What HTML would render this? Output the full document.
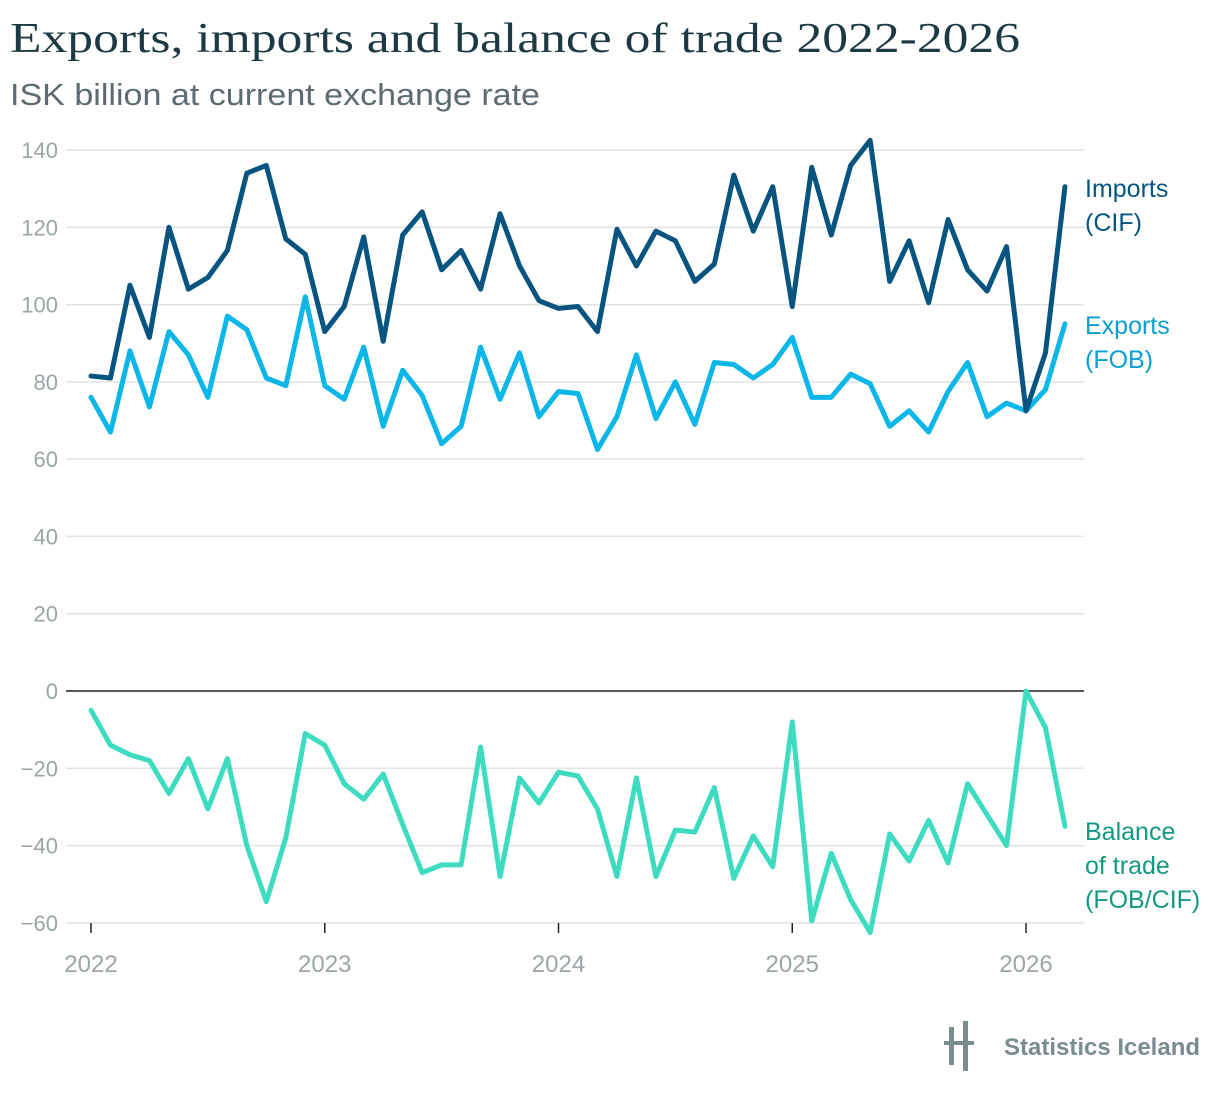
<!DOCTYPE html>
<html><head><meta charset="utf-8"><style>
body{margin:0;background:#fff;width:1220px;height:1096px;overflow:hidden;font-family:"Liberation Sans",sans-serif}
svg text{font-family:"Liberation Sans",sans-serif}
</style></head><body>
<svg id="chart" width="1220" height="1096" viewBox="0 0 1220 1096" xmlns="http://www.w3.org/2000/svg">
<text x="10" y="52" font-size="42" fill="#1d3a44" textLength="1010" lengthAdjust="spacingAndGlyphs" style="font-family:'Liberation Serif',serif">Exports, imports and balance of trade 2022-2026</text>
<text x="10" y="105" font-size="31" fill="#5d6b70" textLength="530" lengthAdjust="spacingAndGlyphs">ISK billion at current exchange rate</text>
<g id="grid"></g><g id="lines"></g><g id="labels"></g>
<g>
<rect x="949" y="1027" width="5" height="38" fill="#7b8c90"/><rect x="963" y="1021" width="5" height="50" fill="#7b8c90"/>
<rect x="944" y="1041" width="30" height="4" fill="#7b8c90"/>
<text x="1004" y="1055" font-size="24" font-weight="bold" fill="#7b8c90" textLength="196" lengthAdjust="spacingAndGlyphs">Statistics Iceland</text>
</g>
</svg>
<script>
const yTicks=[140,120,100,80,60,40,20,0,-20,-40,-60];
const xTickLabels=["2022","2023","2024","2025","2026"];
const imports=[81.5,81,105,91.5,120,104,107,114,134,136,117,113,93,99.5,117.5,90.5,118,124,109,114,104,123.5,110,101,99,99.5,93,119.5,110,119,116.5,106,110.5,133.5,119,130.5,99.5,135.5,118,136,142.5,106,116.5,100.5,122,109,103.5,115,72.5,87.5,130.5];
const exportsV=[76,67,88,73.5,93,87,76,97,93.5,81,79,102,79,75.5,89,68.5,83,76.5,64,68.5,89,75.5,87.5,71,77.5,77,62.5,71,87,70.5,80,69,85,84.5,81,84.5,91.5,76,76,82,79.5,68.5,72.5,67,77.5,85,71,74.5,72.5,78,95];
const balance=[-5,-14,-16.5,-18,-26.5,-17.5,-30.5,-17.5,-40,-54.5,-38,-11,-14,-24,-28,-21.5,-34.5,-47,-45,-45,-14.5,-48,-22.5,-29,-21,-22,-30.5,-48,-22.5,-48,-36,-36.5,-25,-48.5,-37.5,-45.5,-8,-59.5,-42,-54,-62.5,-37,-44,-33.5,-44.5,-24,-32,-40,0,-9.5,-35];
const NS="http://www.w3.org/2000/svg";
const x=i=>91+i*(935/48);
const y=v=>691-v*(541/140);
function mk(tag,attrs,parent){const e=document.createElementNS(NS,tag);for(const k in attrs)e.setAttribute(k,attrs[k]);parent.appendChild(e);return e;}
const grid=document.getElementById('grid'),lines=document.getElementById('lines'),labels=document.getElementById('labels');
yTicks.forEach(t=>{
 const l=mk('line',{x1:66,x2:1084,y1:y(t),y2:y(t),stroke:t===0?'#222':'#e0e3e4','stroke-width':1.5},grid);
 
 
 const tx=mk('text',{x:58,y:y(t)+8,'text-anchor':'end','font-size':22,fill:'#9aa5a8'},labels);
 tx.textContent=t<0?'\u2212'+(-t):String(t);
 
 
});
xTickLabels.forEach((lab,k)=>{
 const xx=x(k*12);
 const tk=mk('line',{x1:xx,x2:xx,y1:923,y2:933,stroke:'#222','stroke-width':1.5},grid);
 
 
 const tx=mk('text',{x:xx,y:972,'text-anchor':'middle','font-size':24,fill:'#9aa5a8'},labels);
 tx.textContent=lab;
 
 
});
function series(data,color,name){
 const p=mk('polyline',{points:data.map((v,i)=>x(i)+','+y(v)).join(' '),fill:'none',stroke:color,'stroke-width':5,'stroke-linejoin':'round','stroke-linecap':'round'},lines);
 
 
}
series(balance,'#3ddcc0','balance-line');
series(exportsV,'#0bb6e8','exports-line');
series(imports,'#06547f','imports-line');
function lbl(linesTxt,yy,color,name){
 const t=mk('text',{x:1085,y:yy,'font-size':25,fill:color},labels);
 
 
 linesTxt.forEach((s,i)=>{const ts=mk('tspan',{x:1085,dy:i?34:0},t);ts.textContent=s;});
}
lbl(['Imports','(CIF)'],197,'#06547f','imports-label');
lbl(['Exports','(FOB)'],334,'#0a9fd0','exports-label');
lbl(['Balance','of trade','(FOB/CIF)'],840,'#12997f','balance-label');
</script>
</body></html>
